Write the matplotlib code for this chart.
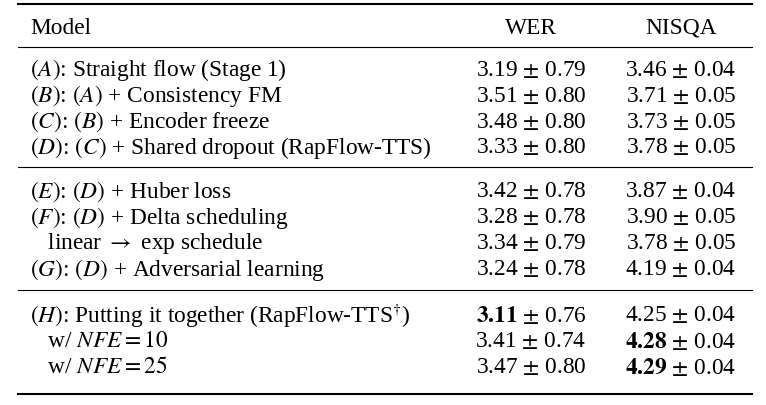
import matplotlib
matplotlib.use("Agg")
import matplotlib.pyplot as plt

plt.rcParams["font.family"] = ["Liberation Serif", "DejaVu Serif"]
plt.rcParams["mathtext.fontset"] = "stix"

models = [
    r"$\it{(A)}$: Straight flow (Stage 1)",
    r"$\it{(B)}$: $\it{(A)}$ + Consistency FM",
    r"$\it{(C)}$: $\it{(B)}$ + Encoder freeze",
    r"$\it{(D)}$: $\it{(C)}$ + Shared dropout (RapFlow-TTS)",
    r"$\it{(E)}$: $\it{(D)}$ + Huber loss",
    r"$\it{(F)}$: $\it{(D)}$ + Delta scheduling",
    r"   linear $\rightarrow$ exp schedule",
    r"$\it{(G)}$: $\it{(D)}$ + Adversarial learning",
    r"$\it{(H)}$: Putting it together (RapFlow-TTS$^{\dagger}$)",
    r"   w/ $NFE=10$",
    r"   w/ $NFE=25$",
]
wer_mean = ["3.19", "3.51", "3.48", "3.33", "3.42", "3.28", "3.34", "3.24", "3.11", "3.41", "3.47"]
wer_std = ["0.79", "0.80", "0.80", "0.80", "0.78", "0.78", "0.79", "0.78", "0.76", "0.74", "0.80"]
nisqa_mean = ["3.46", "3.71", "3.73", "3.78", "3.87", "3.90", "3.78", "4.19", "4.25", "4.28", "4.29"]
nisqa_std = ["0.04", "0.05", "0.05", "0.05", "0.04", "0.05", "0.05", "0.04", "0.04", "0.04", "0.04"]
wer_bold = [8]
nisqa_bold = [9, 10]

row_y = [70, 96, 122, 148, 192, 218, 244, 270, 316, 342, 368]
rules = [(5, 1.5), (48, 0.8), (168, 0.8), (291, 0.8), (395, 1.5)]

fig = plt.figure(figsize=(7.66, 4.06), dpi=100)
ax = fig.add_axes([0, 0, 1, 1])
ax.set_xlim(0, 766)
ax.set_ylim(406, 0)
ax.axis("off")

fs = 16.8
for y, lw in rules:
    ax.plot([18, 752], [y, y], color="black", lw=lw)

ax.text(30, 28, "Model", fontsize=fs, va="center")
ax.text(531, 28, "WER", fontsize=fs, va="center", ha="center")
ax.text(681, 28, "NISQA", fontsize=fs, va="center", ha="center")

def cell(m, s, bold):
    mm = r"$\mathbf{" + m + "}$" if bold else m
    return mm + r" $\pm$ " + s

for i, y in enumerate(row_y):
    ax.text(30, y, models[i], fontsize=fs, va="center")
    ax.text(531, y, cell(wer_mean[i], wer_std[i], i in wer_bold), fontsize=fs, va="center", ha="center")
    ax.text(681, y, cell(nisqa_mean[i], nisqa_std[i], i in nisqa_bold), fontsize=fs, va="center", ha="center")

fig.savefig("out.png", dpi=100, facecolor="white")
